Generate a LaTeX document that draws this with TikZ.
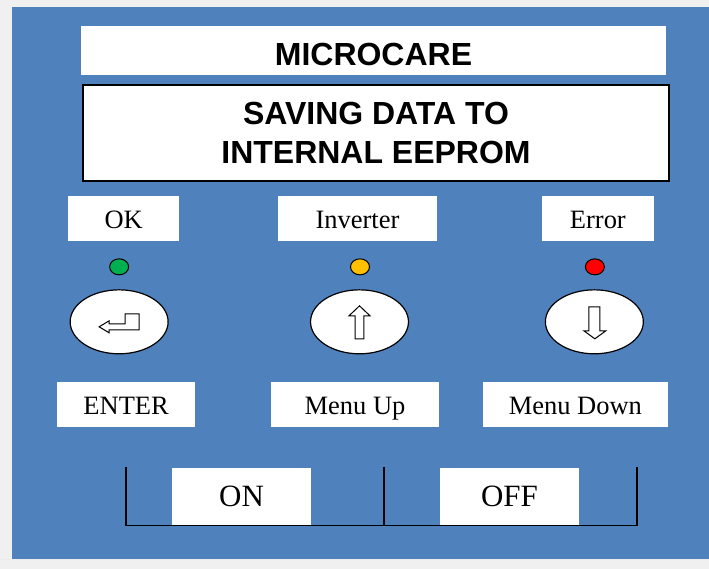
\documentclass[tikz,border=0pt]{standalone}
\usepackage{fontspec}
\setmainfont{Liberation Serif}
\newfontfamily\headfont{Liberation Sans}
\usetikzlibrary{shapes.geometric}
\definecolor{panelblue}{HTML}{4F81BD}
\definecolor{pagegray}{HTML}{F0F0F0}
\definecolor{ledgreen}{HTML}{00B050}
\definecolor{ledyellow}{HTML}{FFC000}
\definecolor{ledred}{HTML}{FF0000}
\begin{document}
\begin{tikzpicture}[x=1pt,y=-1pt,
  label box/.style={fill=white, inner sep=0pt, minimum height=45pt,
    text height=20.5pt, text depth=0pt,
    font=\fontsize{26.5}{30}\selectfont},
  switch box/.style={fill=white, inner sep=0pt, minimum width=139pt,
    minimum height=57pt, text height=20.5pt, text depth=0pt,
    font=\fontsize{31}{34}\selectfont},
  key/.style={draw, ellipse, fill=white, line width=1.2pt,
    minimum width=98pt, minimum height=64pt},
  led/.style={draw, ellipse, line width=1pt, minimum width=19pt,
    minimum height=16pt, inner sep=0pt},
  icon/.style={draw, fill=white, line width=1pt, line join=miter}]
  % page and panel
  \fill[pagegray] (0,0) rectangle (709,569);
  \fill[panelblue] (12,7) rectangle (709,559);
  \draw[white!85!gray] (0,560) -- (709,560);
  % title and display
  \node[fill=white, inner sep=0pt, minimum width=585pt, minimum height=49pt,
    text height=30pt, text depth=0pt,
    font=\headfont\bfseries\fontsize{32}{36}\selectfont] (title) at (373.5,50.5) {MICROCARE};
  \node[draw, fill=white, line width=2pt, inner sep=0pt, minimum width=586pt,
    minimum height=96pt, align=center,
    font=\headfont\bfseries\fontsize{32}{39}\selectfont] (display) at (376,133)
    {SAVING DATA TO\\INTERNAL EEPROM};
  % status labels and leds
  \node[label box, minimum width=111pt] (ok) at (123.5,218.5) {OK};
  \node[label box, minimum width=159pt] (inverter) at (357.5,218.5) {Inverter};
  \node[label box, minimum width=112pt] (error) at (598,218.5) {Error};
  \node[led, fill=ledgreen] (ledok) at (119,267) {};
  \node[led, fill=ledyellow] (ledinv) at (360,267) {};
  \node[led, fill=ledred] (lederr) at (595,267) {};
  % keys
  \node[key] (enter) at (119,322) {};
  \node[key] (up) at (359.5,322) {};
  \node[key] (down) at (594.5,322) {};
  \draw[icon] (99,327) -- (109,321) -- (109,324) -- (125,324) -- (125,314)
    -- (139,314) -- (139,330) -- (109,330) -- (109,333) -- cycle;
  \draw[icon] (359.5,306) -- (370,316) -- (364,316) -- (364,339) -- (355,339)
    -- (355,316) -- (349,316) -- cycle;
  \draw[icon] (595,339) -- (606,331) -- (600,331) -- (600,307) -- (589,307)
    -- (589,331) -- (584,331) -- cycle;
  \node[label box, minimum width=138pt] (enterlbl) at (126,404.5) {ENTER};
  \node[label box, minimum width=168pt] (uplbl) at (355,404.5) {Menu Up};
  \node[label box, minimum width=185pt] (downlbl) at (575.5,404.5) {Menu Down};
  % on / off switch
  \coordinate (sw1) at (126,467);
  \coordinate (sw2) at (126,526);
  \coordinate (sw3) at (637,526);
  \coordinate (sw4) at (637,467);
  \coordinate (swm) at (384,467);
  \coordinate (swb) at (384,526);
  \node[switch box] (on) at (241.5,496.5) {ON};
  \node[switch box] (off) at (509.5,496.5) {OFF};
  \draw[line width=1.5pt] (sw1) -- (sw2) -- (sw3) -- (sw4);
  \draw[line width=1.5pt] (swm) -- (swb);
\end{tikzpicture}
\end{document}
